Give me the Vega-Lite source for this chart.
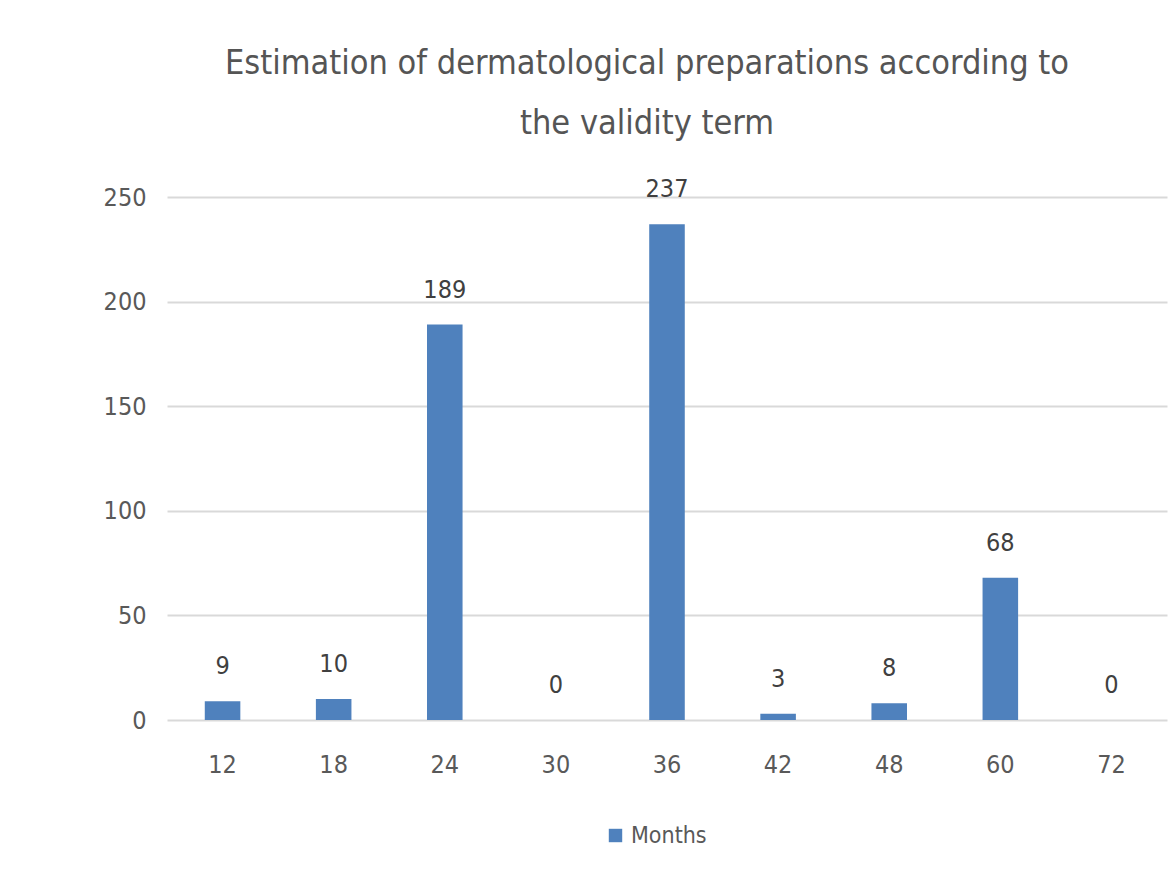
{
  "$schema": "https://vega.github.io/schema/vega-lite/v6.json",
  "width": 1000,
  "height": 523,
  "autosize": {"type": "none"},
  "padding": {"left": 167, "top": 197, "right": 3, "bottom": 171},
  "background": "white",
  "config": {
    "font": "DejaVu Sans Condensed",
    "view": {"stroke": null}
  },
  "title": {
    "text": ["Estimation of dermatological preparations according to", "the validity term"],
    "fontSize": 34,
    "fontWeight": "normal",
    "color": "#555555",
    "anchor": "middle",
    "lineHeight": 60,
    "baseline": "bottom",
    "offset": 2,
    "dx": -20
  },
  "data": {
    "values": [
      {"month": 12, "count": 9},
      {"month": 18, "count": 10},
      {"month": 24, "count": 189},
      {"month": 30, "count": 0},
      {"month": 36, "count": 237},
      {"month": 42, "count": 3},
      {"month": 48, "count": 8},
      {"month": 60, "count": 68},
      {"month": 72, "count": 0}
    ]
  },
  "encoding": {
    "x": {
      "field": "month",
      "type": "ordinal",
      "scale": {"paddingInner": 0.68, "paddingOuter": 0.34},
      "axis": {
        "title": null,
        "labelAngle": 0,
        "labelFontSize": 25,
        "labelColor": "#595959",
        "labelPadding": 32,
        "ticks": false,
        "domain": false,
        "grid": false
      }
    },
    "y": {
      "field": "count",
      "type": "quantitative",
      "scale": {"domain": [0, 250], "nice": false},
      "axis": {
        "title": null,
        "values": [0, 50, 100, 150, 200, 250],
        "labelFontSize": 25,
        "labelColor": "#595959",
        "labelPadding": 21,
        "ticks": false,
        "domain": false,
        "grid": true,
        "gridColor": "#d9d9d9",
        "gridWidth": 2
      }
    }
  },
  "layer": [
    {
      "mark": {"type": "bar", "color": "#4F81BD"},
      "encoding": {
        "color": {
          "datum": "Months",
          "scale": {"range": ["#4F81BD"]},
          "legend": {
            "title": null,
            "orient": "none",
            "legendX": 437,
            "legendY": 627,
            "symbolType": "square",
            "symbolSize": 180,
            "labelFontSize": 23,
            "labelColor": "#595959",
            "labelOffset": 4
          }
        }
      }
    },
    {
      "mark": {"type": "text", "baseline": "bottom", "dy": -22, "fontSize": 25, "color": "#404040"},
      "encoding": {"text": {"field": "count", "type": "quantitative"}}
    }
  ]
}
